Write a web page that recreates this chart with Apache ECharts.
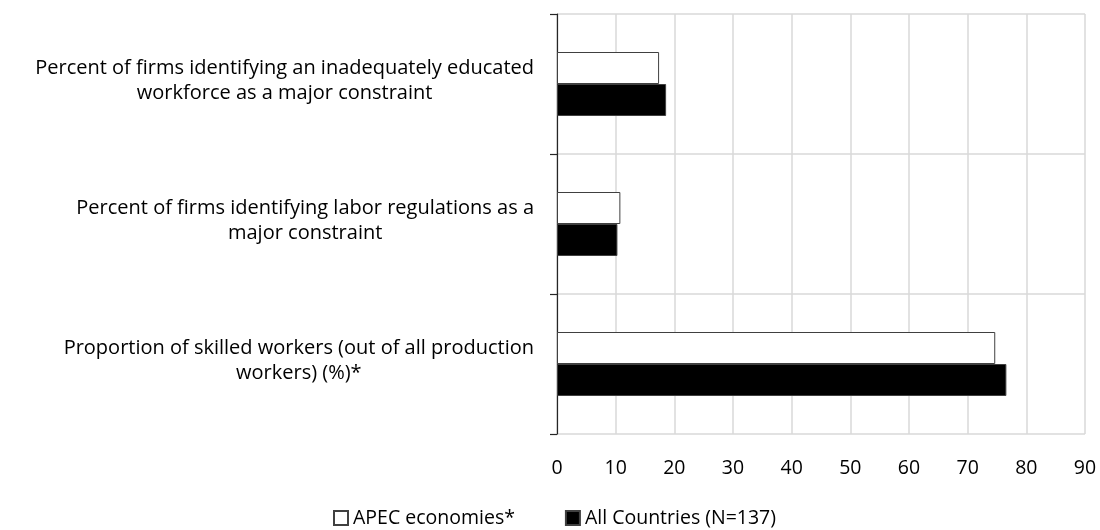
<!DOCTYPE html>
<html>
<head>
<meta charset="utf-8">
<script src="https://cdn.jsdelivr.net/npm/echarts@6/dist/echarts.min.js"></script>
<style>html,body{margin:0;padding:0;background:#fff}#c{width:1100px;height:530px}</style>
</head>
<body>
<div id="c"></div>
<script>
var categories = [
  "Percent of firms identifying an inadequately educated\nworkforce as a major constraint",
  "Percent of firms identifying labor regulations as a\nmajor constraint",
  "Proportion of skilled workers (out of all production\nworkers) (%)*"
];
var seriesNames = ["APEC economies*", "All Countries (N=137)"];
var apecValues = [17.4, 10.8, 74.7];
var allValues = [18.6, 10.3, 76.6];
var xTicks = { min: 0, max: 90, interval: 10 };

var FONT = 'Open Sans';
var chart = echarts.init(document.getElementById('c'));
chart.setOption({
  animation: false,
  textStyle: { fontFamily: FONT },
  grid: { left: 557, right: 15, top: 14, bottom: 96, containLabel: false },
  legend: {
    top: 508,
    left: 333,
    padding: 0,
    itemGap: 50,
    itemWidth: 14,
    itemHeight: 14,
    icon: 'rect',
    textStyle: { fontFamily: FONT, fontSize: 19.5, color: '#000' },
    data: seriesNames
  },
  xAxis: {
    type: 'value',
    min: xTicks.min, max: xTicks.max, interval: xTicks.interval,
    axisLine: { show: false },
    axisTick: { show: false },
    axisLabel: { fontFamily: FONT, fontSize: 19.5, color: '#000', margin: 24 },
    splitLine: { show: true, lineStyle: { color: '#d9d9d9', width: 1.5 } }
  },
  yAxis: {
    type: 'category',
    inverse: true,
    data: categories,
    axisLine: { show: true, lineStyle: { color: '#262626', width: 1.2 } },
    axisTick: { show: true, length: 7, inside: false, lineStyle: { color: '#262626', width: 1.2 } },
    splitLine: { show: true, lineStyle: { color: '#d9d9d9', width: 1.5 } },
    axisLabel: {
      margin: 23,
      color: '#000',
      padding: [0, 0, 6, 0],
      formatter: function (v) {
        return v.split('\n').map(function (l) { return '{c|' + l + '}'; }).join('\n');
      },
      rich: { c: { align: 'center', fontFamily: FONT, fontSize: 20, lineHeight: 25, color: '#000' } }
    }
  },
  series: [
    {
      name: seriesNames[0], type: 'bar', data: apecValues,
      barWidth: 32, barGap: '0%',
      itemStyle: { color: '#ffffff', borderColor: '#404040', borderWidth: 1 }
    },
    {
      name: seriesNames[1], type: 'bar', data: allValues,
      barWidth: 32, barGap: '0%',
      itemStyle: { color: '#000000', borderColor: '#404040', borderWidth: 1 }
    }
  ]
});
</script>
</body>
</html>
